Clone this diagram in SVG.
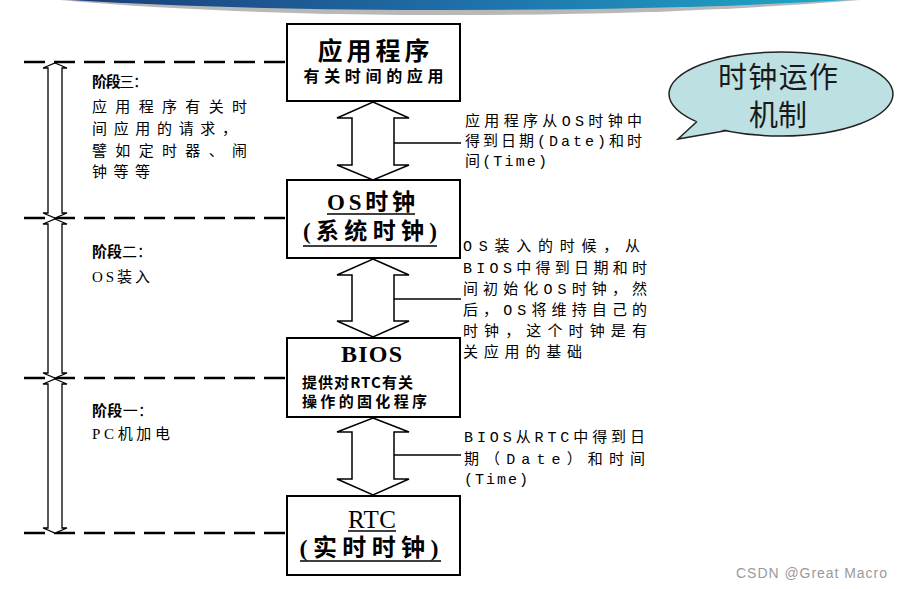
<svg xmlns="http://www.w3.org/2000/svg" width="903" height="589" viewBox="0 0 903 589">
<defs>
<linearGradient id="band" x1="0" y1="0" x2="1" y2="0">
<stop offset="0" stop-color="#1a3d78"/>
<stop offset="0.5" stop-color="#1f6fa8"/>
<stop offset="1" stop-color="#1eaac8"/>
</linearGradient>
<style>
.box{fill:#fff;stroke:#000;stroke-width:2}
.dash{stroke:#000;stroke-width:2.5;stroke-dasharray:21 9;fill:none}
.blk{fill:#fff;stroke:#000;stroke-width:1.5;stroke-linejoin:miter}
.stg{fill:#fff;stroke:#000;stroke-width:1.3}
.lead{stroke:#000;stroke-width:1.5}
.ul{stroke:#000;stroke-width:1.5}
.title{font-family:"Liberation Serif","Noto Sans CJK SC",serif;font-weight:bold;fill:#000}
.sub{font-family:"Noto Sans CJK SC",sans-serif;font-weight:bold;fill:#000}
.note{font-family:"Liberation Mono","Noto Sans CJK SC",monospace;font-size:15px;fill:#000}
.stage{font-family:"Liberation Serif","Noto Sans CJK SC",sans-serif;font-size:15px;fill:#000}
</style>
</defs>
<rect width="903" height="589" fill="#fff"/>
<g id="banner">
<path d="M60 0 L860 0 Q680 15 455 15 Q230 15 60 0 Z" fill="#9a9a9a" opacity="0.7"/>
<path d="M70 0 L848 0 Q680 10 455 10 Q230 10 70 0 Z" fill="url(#band)"/>
</g>
<g id="connectors">
<line class="dash" x1="24" y1="62" x2="287" y2="62"/>
<line class="dash" x1="24" y1="218" x2="287" y2="218"/>
<line class="dash" x1="24" y1="378" x2="287" y2="378"/>
<line class="dash" x1="24" y1="533" x2="287" y2="533"/>
<path class="stg" d="M55 63 L67 68 L62 68 L62 213 L67 213 L55 218 L43 213 L48 213 L48 68 L43 68 Z"/>
<path class="stg" d="M55 219 L67 224 L62 224 L62 373 L67 373 L55 378 L43 373 L48 373 L48 224 L43 224 Z"/>
<path class="stg" d="M55 379 L67 384 L62 384 L62 528 L67 528 L55 533 L43 528 L48 528 L48 384 L43 384 Z"/>
<path class="blk" d="M373 102 L409 118 L394 118 L394 165 L409 165 L373 180 L337 165 L352 165 L352 118 L337 118 Z"/>
<path class="blk" d="M373 259 L409 275 L394 275 L394 321 L409 321 L373 337 L337 321 L352 321 L352 275 L337 275 Z"/>
<path class="blk" d="M373 418 L409 432 L394 432 L394 479 L409 479 L373 495 L337 479 L352 479 L352 432 L337 432 Z"/>
<line class="lead" x1="394" y1="143" x2="461" y2="143"/>
<line class="lead" x1="394" y1="299" x2="461" y2="299"/>
<line class="lead" x1="394" y1="455" x2="461" y2="455"/>
</g>
<g id="node-app">
<rect class="box" x="287" y="24" width="173" height="77"/>
<text class="title" x="373.5" y="60" font-size="25" text-anchor="middle" textLength="112" lengthAdjust="spacing">应用程序</text>
<text class="sub" x="373.5" y="82" font-size="16" text-anchor="middle" textLength="140" lengthAdjust="spacing">有关时间的应用</text>
</g>
<g id="node-os">
<rect class="box" x="287" y="180" width="173" height="78"/>
<text class="title" x="371" y="210" font-size="23" text-anchor="middle" textLength="88" lengthAdjust="spacing">OS时钟</text>
<line class="ul" x1="327" y1="214" x2="415" y2="214"/>
<text class="title" x="370" y="239" font-size="23" text-anchor="middle" textLength="134" lengthAdjust="spacing">(系统时钟)</text>
<line class="ul" x1="303" y1="246" x2="437" y2="246"/>
</g>
<g id="node-bios">
<rect class="box" x="287" y="338" width="173" height="79"/>
<text class="title" x="371.5" y="362" font-size="24" text-anchor="middle" textLength="61" lengthAdjust="spacing">BIOS</text>
<text class="sub" x="302" y="388" font-size="15" textLength="111" lengthAdjust="spacing">提供对RTC有关</text>
<text class="sub" x="302" y="407" font-size="15" textLength="125" lengthAdjust="spacing">操作的固化程序</text>
</g>
<g id="node-rtc">
<rect class="box" x="287" y="496" width="173" height="79"/>
<text x="372" y="528" font-family="Liberation Serif,serif" font-size="25" text-anchor="middle" textLength="48" lengthAdjust="spacing">RTC</text>
<line class="ul" x1="348" y1="531" x2="396" y2="531"/>
<text class="title" x="369" y="556" font-size="24" text-anchor="middle" textLength="139" lengthAdjust="spacing">(实时时钟)</text>
<line class="ul" x1="300" y1="561" x2="441" y2="561"/>
</g>
<g id="stage3">
<text class="stage" x="92" y="87" textLength="56" lengthAdjust="spacing"><tspan font-weight="bold">阶段</tspan>三：</text>
<text class="stage" x="92" y="112" textLength="155" lengthAdjust="spacing">应用程序有关时</text>
<text class="stage" x="92" y="134" textLength="145" lengthAdjust="spacing">间应用的请求，</text>
<text class="stage" x="92" y="156" textLength="155" lengthAdjust="spacing">譬如定时器、闹</text>
<text class="stage" x="92" y="177" textLength="58" lengthAdjust="spacing">钟等等</text>
</g>
<g id="stage2">
<text class="stage" x="92" y="257" textLength="60" lengthAdjust="spacing"><tspan font-weight="bold">阶段</tspan>二：</text>
<text class="stage" x="92" y="282" textLength="58" lengthAdjust="spacing">OS装入</text>
</g>
<g id="stage1">
<text class="stage" x="92" y="416" textLength="61" lengthAdjust="spacing"><tspan font-weight="bold">阶段</tspan>一：</text>
<text class="stage" x="92" y="439" textLength="78" lengthAdjust="spacing">PC机加电</text>
</g>
<g id="note-app-os">
<text class="note" x="465" y="126" textLength="177" lengthAdjust="spacing">应用程序从OS时钟中</text>
<text class="note" x="465" y="146" textLength="177" lengthAdjust="spacing">得到日期(Date)和时</text>
<text class="note" x="465" y="166" textLength="82" lengthAdjust="spacing">间(Time)</text>
</g>
<g id="note-os-bios">
<text class="note" x="463" y="251" textLength="177" lengthAdjust="spacing">OS装入的时候，从</text>
<text class="note" x="463" y="273" textLength="184" lengthAdjust="spacing">BIOS中得到日期和时</text>
<text class="note" x="463" y="294" textLength="184" lengthAdjust="spacing">间初始化OS时钟，然</text>
<text class="note" x="463" y="315" textLength="184" lengthAdjust="spacing">后，OS将维持自己的</text>
<text class="note" x="463" y="336" textLength="184" lengthAdjust="spacing">时钟，这个时钟是有</text>
<text class="note" x="463" y="357" textLength="119" lengthAdjust="spacing">关应用的基础</text>
</g>
<g id="note-bios-rtc">
<text class="note" x="464" y="442" textLength="181" lengthAdjust="spacing">BIOS从RTC中得到日</text>
<text class="note" x="464" y="464" textLength="181" lengthAdjust="spacing">期（Date）和时间</text>
<text class="note" x="464" y="484" textLength="64" lengthAdjust="spacing">(Time)</text>
</g>
<g id="callout">
<ellipse cx="781" cy="94" rx="112" ry="42" fill="#bde0e3" stroke="#222" stroke-width="1.5"/>
<polygon points="697,120 678,139 727,129 722,118 702,112" fill="#bde0e3"/>
<polyline points="697,121.5 678,139 727,130.5" fill="none" stroke="#222" stroke-width="1.5" stroke-linejoin="miter"/>
<text x="778" y="88" font-family="Noto Sans CJK SC,sans-serif" font-size="29" text-anchor="middle" fill="#1a1a1a" textLength="120" lengthAdjust="spacing">时钟运作</text>
<text x="778" y="126" font-family="Noto Sans CJK SC,sans-serif" font-size="29" text-anchor="middle" fill="#1a1a1a">机制</text>
</g>
<g id="watermark">
<text x="736" y="578" font-family="Liberation Sans,sans-serif" font-size="14" fill="#9a9a9a" textLength="151" lengthAdjust="spacing">CSDN @Great Macro</text>
</g>
</svg>
